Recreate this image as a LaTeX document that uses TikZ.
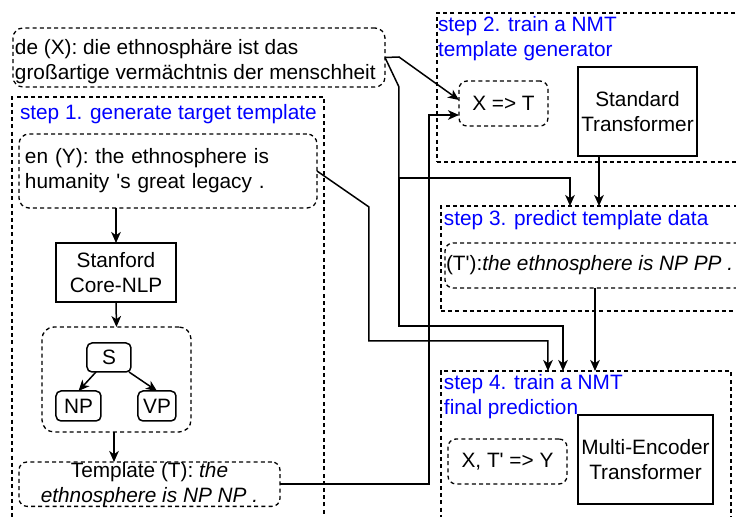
\documentclass[tikz,border=0pt]{standalone}
\usepackage{fontspec}
\setmainfont{Liberation Sans}
\usetikzlibrary{arrows.meta,calc}
\newcommand{\sq}{\textquotesingle}
\begin{document}
\begin{tikzpicture}[x=0.5pt,y=-0.5pt,
  every node/.style={font=\fontsize{10.4}{12.5}\selectfont, inner sep=0pt, outer sep=0pt},
  dsh/.style={dash pattern=on 2pt off 1.6pt},
  frame/.style={draw, dsh, line width=0.65pt, anchor=north west},
  rbox/.style={draw, dsh, line width=0.65pt, rounded corners=4pt, anchor=north west, align=center},
  sbox/.style={draw, line width=0.75pt, anchor=north west, align=center},
  tbox/.style={draw, line width=0.75pt, rounded corners=2.5pt, anchor=north west, align=center},
  title/.style={text=blue, align=left, anchor=west},
  arr/.style={-{Stealth[length=5.5pt,width=4.8pt,inset=1.6pt]}, line width=0.75pt},
  wire/.style={line width=0.75pt}
]
\useasboundingbox (0,0) rectangle (736,517);
\fill[white] (0,0) rectangle (736,517);
\clip (0,0) rectangle (736,517);

% step containers
\node[frame, minimum width=156pt, minimum height=221.5pt] (step1) at (12,97) {};
\node[frame, minimum width=161.5pt, minimum height=74.5pt] (step2) at (437,13) {};
\node[frame, minimum width=159.5pt, minimum height=52.5pt] (step3) at (441,206) {};
\node[frame, minimum width=145pt, minimum height=84.5pt] (step4) at (441,371) {};

% step titles
\node[title] (t1) at (20,114) {step 1. generate target template};
\node[title] (t2) at (438,38.5) {step 2. train a NMT\\template generator};
\node[title] (t3) at (444,220) {step 3. predict template data};
\node[title] (t4) at (444,396.5) {step 4. train a NMT\\final prediction};

% source sentence
\node[rbox, rounded corners=5pt, minimum width=186pt, minimum height=29.5pt] (dex) at (13,28) {};
\node[anchor=west, align=left] (dextxt) at ($(dex.west)+(2,4)$)
      {de (X): die ethnosphäre ist das\\großartige vermächtnis der menschheit};

% step 1 contents
\node[rbox, rounded corners=5pt, minimum width=149pt, minimum height=37pt,
      text width=143pt, inner xsep=3pt, align=left] (eny) at (19,134)
      {en (Y): the ethnosphere is\\humanity \sq s great legacy .};
\node[sbox, minimum width=60pt, minimum height=29.5pt] (nlp) at (56,243) {Stanford\\Core-NLP};
\node[rbox, rounded corners=6pt, minimum width=74.5pt, minimum height=52.5pt] (tree) at (42,327) {};
\node[tbox, minimum width=22pt, minimum height=14.5pt] (S) at (87,343) {S};
\node[tbox, minimum width=22.5pt, minimum height=15pt] (NP) at (56,391) {NP};
\node[tbox, minimum width=19pt, minimum height=15pt] (VP) at (138,391) {VP};
\node[rbox, minimum width=130.5pt, minimum height=22pt] (tmpl) at (19,462)
      {Template (T): \textit{the}\\\textit{ethnosphere is NP NP .}};

% step 2 contents
\node[rbox, minimum width=44.5pt, minimum height=22.5pt] (xt) at (459,81) {X => T};
\node[sbox, minimum width=59.5pt, minimum height=44.5pt] (std) at (578,67) {Standard\\Transformer};

% step 3 contents
\node[rbox, minimum width=157.5pt, minimum height=22.5pt] (tp) at (445,243) {};
\node[anchor=west, align=left] (tptxt) at ($(tp.west)+(1,0)$)
      {(T\sq):\textit{the ethnosphere is NP PP .}};

% step 4 contents
\node[rbox, minimum width=59.5pt, minimum height=22.5pt] (xty) at (448,439) {X, T\sq{} => Y};
\node[sbox, minimum width=67.5pt, minimum height=44.5pt] (met) at (578,415) {Multi-Encoder\\Transformer};

% bend points and column positions of the long connectors
\coordinate (j1) at (399,57);
\coordinate (j2) at (399,87);
\coordinate (j3) at (399,178);
\coordinate (j4) at (399,326);
\coordinate (e1) at (369,207);
\coordinate (e2) at (369,341);
\coordinate (k1) at (429,115);
\coordinate (c3) at (570,0);
\coordinate (c4) at (563,0);
\coordinate (c5) at (548,0);
\coordinate (c6) at (599,0);
\coordinate (c7) at (595,0);
\coordinate (c8) at (114,0);

% step 1 pipeline
\draw[arr] (eny.south -| nlp.north) -- (nlp.north);
\draw[arr] (nlp.south) -- (tree.north);
\draw[arr] ([xshift=-6.5pt]S.south) -- (NP.north);
\draw[arr] ([xshift=10pt]S.south) -- (VP.north);
\draw[arr] (tree.south -| c8) -- (c8 |- tmpl.north);

% source sentence to the generator and to steps 3 and 4
\draw[arr] (dex.east) -- (j1) -- ($(xt.west)+(0,-3.5)$);
\draw[wire] (dex.east) -- (j2) -- (j3);
\draw[arr] (j3) -| (c3 |- step3.north);
\draw[arr] (j3) -- (j4) -| (c4 |- step4.north);

% target sentence to step 4
\draw[arr] (eny.east) -- (e1) -- (e2) -| (c5 |- step4.north);

% template to the generator
\draw[arr] (tmpl.east) -| (k1) -- ($(xt.west)+(0,11.5)$);

% generator to prediction, prediction to step 4
\draw[arr] (std.south -| c6) -- (c6 |- step3.north);
\draw[arr] (tp.south -| c7) -- (c7 |- step4.north);
\end{tikzpicture}
\end{document}
